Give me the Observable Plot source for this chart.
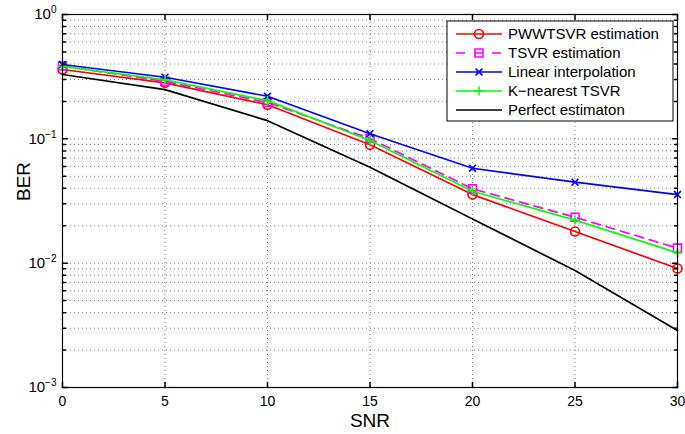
<!DOCTYPE html>
<html><head><meta charset="utf-8">
<script src="https://cdn.jsdelivr.net/npm/d3@7"></script>
<script src="https://cdn.jsdelivr.net/npm/@observablehq/plot@0.6"></script>
<style>body{margin:0;background:#fff}</style>
</head><body><div id="chart"></div>
<script>
// ---- data ----
const snr = [0, 5, 10, 15, 20, 25, 30];
const seriesNames = ["PWWTSVR estimation", "TSVR estimation", "Linear interpolation", "K\u2212nearest TSVR", "Perfect estimaton"];
const pwwtsvr  = [0.361, 0.282, 0.188, 0.0895, 0.0356, 0.0180, 0.00905];
const tsvr     = [0.385, 0.290, 0.196, 0.1005, 0.0396, 0.0234, 0.0132];
const linear   = [0.396, 0.313, 0.220, 0.110, 0.058, 0.0448, 0.0356];
const knearest = [0.382, 0.298, 0.203, 0.0969, 0.0379, 0.0222, 0.0121];
const perfect  = [0.329, 0.249, 0.140, 0.0591, 0.0227, 0.00872, 0.00287];
const xTicks = [0, 5, 10, 15, 20, 25, 30];
const yMajor = [1e-3, 1e-2, 1e-1, 1];
const yMinor = [1e-3, 1e-2, 1e-1].flatMap(d => [2,3,4,5,6,7,8,9].map(k => k * d));

// ---- styles ----
const styles = [
  {color: "#ff0000", symbol: "circle", r: 4.5, dash: null},
  {color: "#ff00ff", symbol: "square2", r: 5.1, dash: "9,6"},
  {color: "#0000ff", symbol: "times", r: 3.2, dash: null},
  {color: "#00ff00", symbol: "plus", r: 3.0, dash: null},
  {color: "#000000", symbol: null, r: 0, dash: null}
];
const FONT = "'Liberation Sans', Arial, Helvetica, sans-serif";
const values = [pwwtsvr, tsvr, linear, knearest, perfect];
const tables = values.map((v, i) => snr.map((x, j) => ({x, y: v[j], name: seriesNames[i]})));
const tick = {draw(ctx, l) { ctx.moveTo(0, 0); ctx.lineTo(0, -l); }};
const gridStyle = {stroke: "#000", strokeOpacity: 0.5, strokeDasharray: "1,3"};

const marks = [
  Plot.ruleX(xTicks.slice(1, -1), {x: d => d, ...gridStyle}),
  Plot.ruleY(yMinor.concat([1e-2, 1e-1]), {y: d => d, ...gridStyle}),
];
tables.forEach((t, i) => {
  marks.push(Plot.line(t, {x: "x", y: "y", stroke: styles[i].color, strokeWidth: 1.7,
    strokeDasharray: styles[i].dash || undefined}));
  if (styles[i].symbol) marks.push(Plot.dot(t, {x: "x", y: "y", symbol: styles[i].symbol, r: styles[i].r,
    fill: "none", stroke: styles[i].color, strokeWidth: 1.6}));
});
marks.push(
  Plot.frame({stroke: "#000", strokeWidth: 1.2}),
  Plot.vector(xTicks, {x: d => d, frameAnchor: "bottom", length: 5, rotate: 0, anchor: "start", shape: tick, stroke: "#000"}),
  Plot.vector(xTicks, {x: d => d, frameAnchor: "top", length: 5, rotate: 180, anchor: "start", shape: tick, stroke: "#000"}),
  Plot.vector(yMajor, {y: d => d, frameAnchor: "left", length: 5, rotate: 90, anchor: "start", shape: tick, stroke: "#000"}),
  Plot.vector(yMajor, {y: d => d, frameAnchor: "right", length: 5, rotate: -90, anchor: "start", shape: tick, stroke: "#000"}),
  Plot.vector(yMinor, {y: d => d, frameAnchor: "left", length: 3, rotate: 90, anchor: "start", shape: tick, stroke: "#000"}),
  Plot.vector(yMinor, {y: d => d, frameAnchor: "right", length: 3, rotate: -90, anchor: "start", shape: tick, stroke: "#000"}),
  Plot.axisX({ticks: xTicks, tickSize: 0, tickPadding: 9, fontSize: 14, label: null, tickFormat: d => String(d)}),
  Plot.axisY({ticks: yMajor, tickSize: 0, tickPadding: 6, fontSize: 15, label: null,
    tickFormat: d => "10^" + Math.round(Math.log10(d))}),
  Plot.text(["SNR"], {text: d => d, frameAnchor: "bottom", lineAnchor: "top", dy: 26, fontSize: 19}),
  Plot.text(["BER"], {text: d => d, frameAnchor: "left", dx: -39, rotate: -90, fontSize: 19})
);

const chart = Plot.plot({
  width: 685, height: 434,
  marginLeft: 62, marginRight: 8, marginTop: 14, marginBottom: 47,
  style: {fontFamily: FONT, background: "#fff", color: "#000"},
  x: {domain: [0, 30]},
  y: {type: "log", domain: [1e-3, 1]},
  marks
});

// superscript exponents on y tick labels
d3.select(chart).selectAll('g[aria-label="y-axis tick label"] text').each(function () {
  const m = this.textContent.match(/^10\^(-?\d+)$/);
  if (!m) return;
  const t = d3.select(this);
  t.text("");
  t.append("tspan").text("10");
  t.append("tspan").attr("dy", "-0.6em").attr("font-size", 10).text(m[1].replace("-", "\u2212"));
});

// legend
const lg = d3.select(chart).append("g").attr("font-family", FONT).attr("font-size", 15)
  .attr("text-anchor", "start");
lg.append("rect").attr("x", 447).attr("y", 21).attr("width", 226).attr("height", 100)
  .attr("fill", "#fff").attr("stroke", "#000").attr("stroke-width", 1);
const symMap = {circle: d3.symbolCircle, square2: d3.symbolSquare2, times: d3.symbolTimes, plus: d3.symbolPlus};
seriesNames.forEach((name, i) => {
  const y = 34 + i * 19, s = styles[i];
  lg.append("line").attr("x1", 456).attr("x2", 502).attr("y1", y).attr("y2", y)
    .attr("stroke", s.color).attr("stroke-width", 1.7)
    .attr("stroke-dasharray", s.dash ? "9,9" : null);
  if (s.symbol) lg.append("path").attr("transform", `translate(479,${y})`)
    .attr("d", d3.symbol(symMap[s.symbol], Math.PI * s.r * s.r)())
    .attr("fill", "none").attr("stroke", s.color).attr("stroke-width", 1.6);
  lg.append("text").attr("x", 508).attr("y", y).attr("dy", "0.35em")
    .attr("text-anchor", "start").attr("fill", "#000").text(name);
});

document.getElementById("chart").appendChild(chart);
</script>
</body></html>
